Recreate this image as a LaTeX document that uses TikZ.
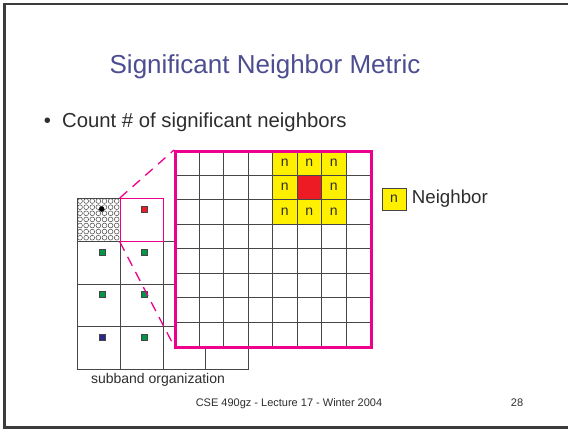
\documentclass[tikz,border=0pt]{standalone}
\usepackage{fontspec}
\setmainfont{Liberation Sans}
\usepackage{tikz}
\usetikzlibrary{shapes,arrows,positioning}
\definecolor{slidetitle}{RGB}{77,77,145}
\definecolor{slidetext}{RGB}{45,45,45}
\definecolor{framegray}{RGB}{60,60,60}
\definecolor{gridgray}{RGB}{70,70,70}
\definecolor{hotpink}{RGB}{236,0,140}
\definecolor{nbyellow}{RGB}{255,240,0}
\definecolor{sigred}{RGB}{237,28,36}
\definecolor{siggreen}{RGB}{0,150,70}
\definecolor{sigblue}{RGB}{40,40,140}
\tikzstyle{cell} = [draw=gridgray, line width=0.8pt, minimum size=42.8pt, inner sep=0pt, anchor=north west]
\tikzstyle{bigcell} = [draw=gridgray, line width=0.8pt, fill=white, minimum size=24.5pt, inner sep=0pt, anchor=north west]
\tikzstyle{nbcell} = [bigcell, fill=nbyellow, text=slidetext, font=\fontsize{14}{14}\selectfont]
\tikzstyle{coef} = [draw=gridgray, line width=0.4pt, minimum size=6pt, inner sep=0pt]
\tikzstyle{zoomline} = [hotpink, line width=1.3pt, dash pattern=on 10pt off 7pt]

\begin{document}
\begin{tikzpicture}[x=1pt, y=-1pt, text=slidetext]
		\useasboundingbox (0,0) rectangle (568,429);
		\draw [framegray, line width=2.5pt] (575,4) -- (4.5,4) -- (4.5,427.3) -- (575,427.3);
		
		\node [text=slidetitle, font=\fontsize{26}{30}\selectfont, anchor=base] (title) at (265,73) {Significant Neighbor Metric};
		\node [font=\fontsize{20.3}{24}\selectfont, anchor=base] (dot) at (47.5,127.5) {•};
		\node [font=\fontsize{20.3}{24}\selectfont, anchor=base west, inner sep=0pt] (point) at (62,127.5) {Count \# of significant neighbors};
		
		\foreach \c/\r in {0/0,1/0,0/1,1/1,2/1,0/2,1/2,2/2,0/3,1/3,2/3,3/3}
			\node [cell] (s\c\r) at ({77+42.8*\c},{198+42.8*\r}) {};
		\foreach \i in {0,...,6}
			\foreach \j in {0,...,6}
				\draw [gridgray, line width=0.5pt] ({80.05+6.11*\i},{201.05+6.11*\j}) circle (2.4pt);
		\node [coef, circle, fill=black, draw=black, minimum size=5pt] (ll) at (101.7,209) {};
		\node [cell, draw=hotpink, line width=1pt] (sel) at (119.8,198) {};
		\node [coef, fill=sigred] (h1) at (144,209) {};
		\node [coef, fill=siggreen] (v1) at (101.7,251.7) {};
		\node [coef, fill=siggreen] (d1) at (144,251.7) {};
		\node [coef, fill=siggreen] (v2) at (101.7,294.4) {};
		\node [coef, fill=siggreen] (d2) at (144,294.4) {};
		\node [coef, fill=sigblue] (v3) at (101.7,337) {};
		\node [coef, fill=siggreen] (d3) at (144,337) {};
		
		\draw [zoomline] (sel.north west) -- (174,150) coordinate (bnw);
		\draw [zoomline] (sel.south west) -- (174,346) coordinate (bsw);
		
		\foreach \i in {0,...,7}
			\foreach \j in {0,...,7}
				\node [bigcell] (b\i\j) at ({174+24.5*\i},{150+24.5*\j}) {};
		\foreach \i/\j in {4/0,5/0,6/0,4/1,6/1,4/2,5/2,6/2}
			\node [nbcell] (n\i\j) at ({174+24.5*\i},{150+24.5*\j}) {n};
		\node [bigcell, fill=sigred] (sig) at ({174+24.5*5},{150+24.5*1}) {};
		\node [draw=hotpink, line width=2.5pt, minimum size=196pt, inner sep=0pt, anchor=north west] (big) at (bnw) {};
		
		\node [nbcell, anchor=center, minimum width=24pt, minimum height=22pt] (key) at (394,199) {n};
		\node [right=2pt of key, font=\fontsize{18.7}{22}\selectfont] (keytext) {Neighbor};
		
		\node [font=\fontsize{14}{16}\selectfont, anchor=base] (sub) at (158,383.3) {subband organization};
		\node [font=\fontsize{11}{13}\selectfont, anchor=base] (foot) at (289,406) {CSE 490gz - Lecture 17 - Winter 2004};
		\node [font=\fontsize{11}{13}\selectfont, anchor=base] (page) at (517,406) {28};
		
		
		\end{tikzpicture}
\end{document}
